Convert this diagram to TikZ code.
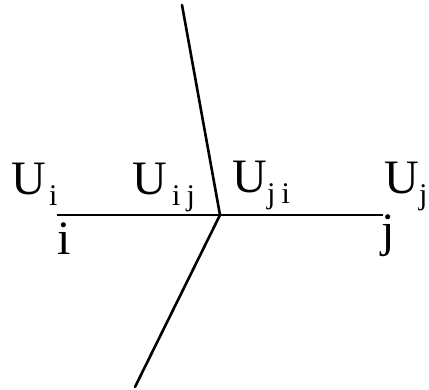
\documentclass[tikz,border=0pt]{standalone}
\usepackage{fontspec}
\setmainfont{Liberation Serif}
\begin{document}
\begin{tikzpicture}[x=1pt,y=-1pt,
  lbl/.style={inner sep=0pt,anchor=base west,font=\fontsize{48}{48}\selectfont},
  sub/.style={inner sep=0pt,anchor=base west,font=\fontsize{30}{30}\selectfont},
  edge/.style={line width=2.6pt,line cap=round},
  hline/.style={line width=2.2pt}]
\useasboundingbox (0,0) rectangle (429,390);
\coordinate (c) at (220,215);
\coordinate (i) at (57,215);
\coordinate (j) at (383,215);
\coordinate (t) at (182,5);
\coordinate (b) at (135,387);
\draw[hline] (i) -- (j);
\draw[edge] (t) -- (c) -- (b);
% labels
\node[lbl] (Ui) at (11,195) {U};
\node[sub] (Uis) at (49,206) {i};
\node[lbl] (Uij) at (132,195) {U};
\node[sub] (Uijs) at (172,206) {i\hspace{6pt}j};
\node[lbl] (Uji) at (232,193) {U};
\node[sub] (Ujis) at (267,204) {j\hspace{6pt}i};
\node[lbl] (Uj) at (384,194) {U};
\node[sub] (Ujs) at (419,205) {j};
\node[lbl] (ni) at (57,255) {i};
\node[lbl] (nj) at (381,247) {j};
\end{tikzpicture}
\end{document}
